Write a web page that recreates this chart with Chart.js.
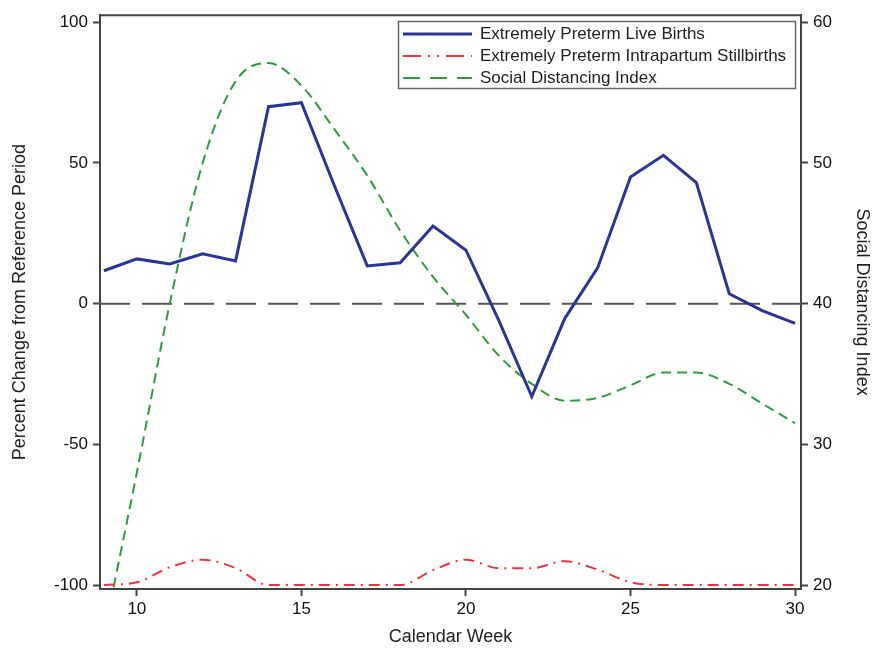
<!DOCTYPE html>
<html>
<head>
<meta charset="utf-8">
<script src="https://cdn.jsdelivr.net/npm/chart.js@4"></script>
<style>
  body { margin: 0; background: #fff; }
  canvas { display: block; }
</style>
</head>
<body>
<canvas id="chart" width="874" height="650"></canvas>
<script>
// data
const weeks = [9, 10, 11, 12, 13, 14, 15, 16, 17, 18, 19, 20, 21, 22, 23, 24, 25, 26, 27, 28, 29, 30];
const liveBirths = [11.7, 15.9, 14.1, 17.7, 15.2, 70, 71.4, 42, 13.4, 14.5, 27.6, 19, -6, -33, -5.3, 12.7, 45, 52.7, 43, 3.5, -2.5, -7];
const stillbirths = [-100, -99, -93.7, -91, -94, -100, -100, -100, -100, -100, -94.7, -91, -94, -94, -91.5, -94.5, -99, -100, -100, -100, -100, -100];
const distancingIndex = [16.5, 28, 40, 50, 55.8, 57.1, 55.5, 52.4, 49.1, 45.2, 41.9, 39.2, 36.3, 34.3, 33.1, 33.3, 34.2, 35.1, 35.1, 34.3, 32.9, 31.5];

const weekTicks = [10, 15, 20, 25, 30];
const percentTicks = [-100, -50, 0, 50, 100];
const indexTicks = [20, 30, 40, 50, 60];

const FONT = "'Liberation Sans', Arial, sans-serif";
const AXIS_COLOR = '#444';

function points(values) {
  return weeks.map((w, i) => ({ x: w, y: values[i] }));
}

function setTicks(list) {
  return scale => { scale.ticks = list.map(v => ({ value: v })); };
}

// dashed reference line at 0 and the box around the plot
const framePlugin = {
  id: 'frame',
  beforeDatasetsDraw(chart) {
    const { ctx, chartArea: a, scales } = chart;
    const y0 = scales.y.getPixelForValue(0);
    ctx.save();
    ctx.strokeStyle = '#555';
    ctx.lineWidth = 2;
    ctx.setLineDash([30, 12]);
    ctx.beginPath();
    ctx.moveTo(a.left, y0);
    ctx.lineTo(a.right, y0);
    ctx.stroke();
    ctx.restore();
  },
  afterDraw(chart) {
    const { ctx, chartArea: a } = chart;
    ctx.save();
    ctx.strokeStyle = AXIS_COLOR;
    ctx.lineWidth = 2;
    ctx.beginPath();
    ctx.moveTo(a.left, a.top);
    ctx.lineTo(a.right, a.top);
    ctx.stroke();
    ctx.restore();
  }
};

// legend box sits inside the plot, top right
const legendPlugin = {
  id: 'insideLegend',
  afterDraw(chart) {
    const ctx = chart.ctx;
    const box = { x: 398, y: 21, w: 397, h: 67 };
    ctx.save();
    ctx.fillStyle = '#fff';
    ctx.fillRect(box.x, box.y, box.w, box.h);
    ctx.strokeStyle = '#666';
    ctx.lineWidth = 1.5;
    ctx.strokeRect(box.x + 0.5, box.y + 0.5, box.w, box.h);
    ctx.font = '17px ' + FONT;
    ctx.textBaseline = 'middle';
    chart.data.datasets.forEach((ds, i) => {
      const y = box.y + 13 + i * 22;
      ctx.strokeStyle = ds.borderColor;
      ctx.lineWidth = ds.borderWidth;
      ctx.setLineDash(ds.legendDash || ds.borderDash || []);
      ctx.beginPath();
      ctx.moveTo(box.x + 5, y);
      ctx.lineTo(box.x + 74, y);
      ctx.stroke();
      ctx.setLineDash([]);
      ctx.fillStyle = '#222';
      ctx.fillText(ds.label, box.x + 82, y);
    });
    ctx.restore();
  }
};

new Chart('chart', {
  type: 'line',
  data: {
    datasets: [{
      label: 'Extremely Preterm Live Births',
      data: points(liveBirths),
      borderColor: '#2b3592',
      borderWidth: 3,
      tension: 0,
      yAxisID: 'y'
    }, {
      label: 'Extremely Preterm Intrapartum Stillbirths',
      data: points(stillbirths),
      borderColor: '#e8353c',
      borderWidth: 2,
      borderDash: [11, 6, 2, 6],
      legendDash: [18, 7, 2, 7, 2, 7],
      cubicInterpolationMode: 'monotone',
      yAxisID: 'y'
    }, {
      label: 'Social Distancing Index',
      data: points(distancingIndex),
      borderColor: '#2f9a3e',
      borderWidth: 2,
      borderDash: [10, 6],
      legendDash: [17, 10],
      cubicInterpolationMode: 'monotone',
      yAxisID: 'y2'
    }]
  },
  options: {
    responsive: false,
    devicePixelRatio: 1,
    animation: false,
    layout: { padding: { top: 13, left: 0, right: 0, bottom: 0 } },
    elements: { point: { radius: 0 } },
    plugins: { legend: { display: false }, tooltip: { enabled: false } },
    scales: {
      x: {
        type: 'linear',
        min: 8.88,
        max: 30.18,
        afterBuildTicks: setTicks(weekTicks),
        afterFit: s => { s.height = 61; },
        grid: { drawOnChartArea: false, tickLength: 7, color: AXIS_COLOR, tickWidth: 2 },
        border: { color: AXIS_COLOR, width: 2 },
        ticks: { color: '#111', padding: 3, font: { family: FONT, size: 17 } },
        title: { display: true, text: 'Calendar Week', color: '#222', padding: { top: 0, bottom: 2 }, font: { family: FONT, size: 18 } }
      },
      y: {
        position: 'left',
        min: -101.4,
        max: 102.5,
        afterBuildTicks: setTicks(percentTicks),
        afterFit: s => { s.width = 100; },
        grid: { drawOnChartArea: false, tickLength: 7, color: AXIS_COLOR, tickWidth: 2 },
        border: { color: AXIS_COLOR, width: 2 },
        ticks: { color: '#111', padding: 5, font: { family: FONT, size: 17 } },
        title: { display: true, text: 'Percent Change from Reference Period', color: '#222', padding: { top: 9, bottom: 0 }, font: { family: FONT, size: 18 } }
      },
      y2: {
        position: 'right',
        min: 19.72,
        max: 60.5,
        afterBuildTicks: setTicks(indexTicks),
        afterFit: s => { s.width = 73; },
        grid: { drawOnChartArea: false, tickLength: 7, color: AXIS_COLOR, tickWidth: 2 },
        border: { color: AXIS_COLOR, width: 2 },
        ticks: { color: '#111', padding: 5, font: { family: FONT, size: 17 } },
        title: { display: true, text: 'Social Distancing Index', color: '#222', padding: { top: 1, bottom: 0 }, font: { family: FONT, size: 18 } }
      }
    }
  },
  plugins: [framePlugin, legendPlugin]
});
</script>
</body>
</html>
